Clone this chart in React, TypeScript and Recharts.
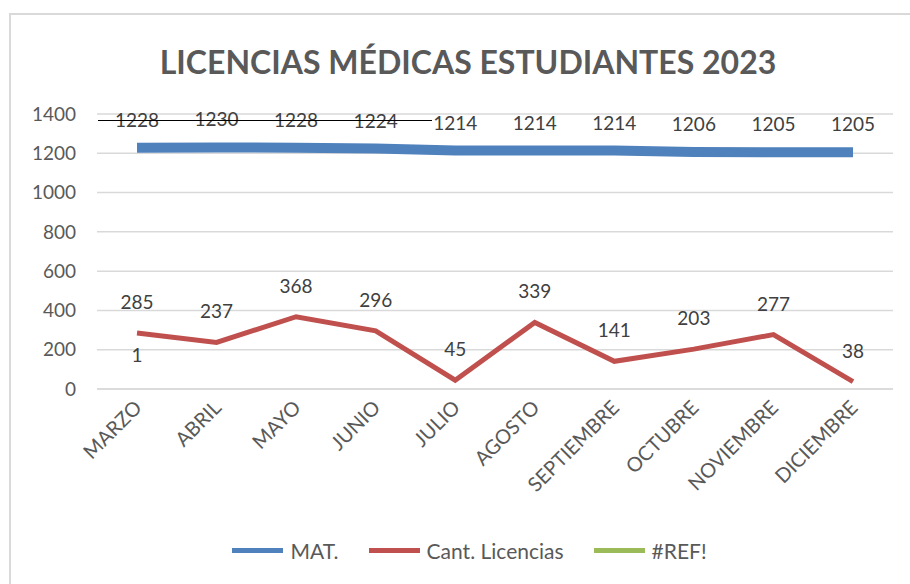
import React from 'react';
import { LineChart, Line, XAxis, YAxis, CartesianGrid, Legend, LabelList } from 'recharts';

// Datos
const meses = ['MARZO', 'ABRIL', 'MAYO', 'JUNIO', 'JULIO', 'AGOSTO', 'SEPTIEMBRE', 'OCTUBRE', 'NOVIEMBRE', 'DICIEMBRE'];
const matricula = [1228, 1230, 1228, 1224, 1214, 1214, 1214, 1206, 1205, 1205];
const licencias = [285, 237, 368, 296, 45, 339, 141, 203, 277, 38];
const refSerie = [1, null, null, null, null, null, null, null, null, null];
const yTicks = [0, 200, 400, 600, 800, 1000, 1200, 1400];

const data = meses.map((m, i) => ({
  name: m,
  mat: matricula[i],
  lic: licencias[i],
  ref: refSerie[i],
}));

const FONT = 'Lato, "Open Sans", sans-serif';
const GRIS = '#595959';

const legendItems = [
  { label: 'MAT.', color: '#4f81bd' },
  { label: 'Cant. Licencias', color: '#c0504d' },
  { label: '#REF!', color: '#9bbb59' },
];

const XTick = (props: any) => {
  const { x, y, payload } = props;
  return (
    <text
      x={x + 6}
      y={y + 12}
      transform={`rotate(-45, ${x + 6}, ${y + 12})`}
      textAnchor="end"
      fontSize={20}
      fontFamily={FONT}
      fill={GRIS}
    >
      {payload.value}
    </text>
  );
};

const makeLabel = (dy: number) => (props: any) => {
  const { x, y, value } = props;
  if (value == null) return null;
  return (
    <text x={x} y={y + dy} textAnchor="middle" fontSize={19} fontFamily={FONT} fill="#404040">
      {value}
    </text>
  );
};

const LegendContent = () => (
  <div
    style={{
      display: 'flex',
      justifyContent: 'center',
      alignItems: 'center',
      fontFamily: FONT,
      fontSize: 21,
      color: GRIS,
      paddingLeft: 46,
      transform: 'translateY(3px)',
    }}
  >
    {legendItems.map((it, i) => (
      <div key={it.label} style={{ display: 'flex', alignItems: 'center', marginLeft: i === 0 ? 0 : 30 }}>
        <div style={{ width: 51, height: 5, background: it.color, marginRight: 7 }} />
        <span>{it.label}</span>
      </div>
    ))}
  </div>
);

export default function App() {
  return (
    <div style={{ position: 'absolute', left: 0, top: 0, width: 910, height: 584, overflow: 'hidden', background: '#fff' }}>
      <div
        style={{
          position: 'absolute',
          left: 9,
          top: 13,
          width: 920,
          height: 600,
          border: '2px solid #d9d9d9',
        }}
      />
      <div
        style={{
          position: 'absolute',
          left: 0,
          width: 936,
          top: 42,
          textAlign: 'center',
          fontFamily: FONT,
          fontWeight: 700,
          fontSize: 32,
          color: GRIS,
        }}
      >
        LICENCIAS MÉDICAS ESTUDIANTES 2023
      </div>
      <div style={{ position: 'absolute', left: 0, top: 0 }}>
        <LineChart width={910} height={584} data={data} margin={{ top: 114, right: 17, left: 0, bottom: 24 }}>
          <CartesianGrid vertical={false} stroke="#d9d9d9" strokeWidth={1.5} />
          <XAxis
            dataKey="name"
            axisLine={{ stroke: '#d9d9d9', strokeWidth: 1.5 }}
            tickLine={false}
            height={146}
            interval={0}
            padding={{ left: 40, right: 40 }}
            tick={<XTick />}
          />
          <YAxis
            domain={[0, 1400]}
            ticks={yTicks}
            width={97}
            axisLine={false}
            tickLine={false}
            tickSize={0}
            tickMargin={21}
            tick={{ fontSize: 19, fill: GRIS, fontFamily: FONT }}
          />
          <Legend verticalAlign="bottom" content={<LegendContent />} />
          <Line
            dataKey="mat"
            stroke="#4f81bd"
            strokeWidth={10}
            dot={false}
            type="linear"
            isAnimationActive={false}
          >
            <LabelList dataKey="mat" content={makeLabel(-21)} />
          </Line>
          <Line
            dataKey="lic"
            stroke="#c0504d"
            strokeWidth={5}
            dot={false}
            type="linear"
            isAnimationActive={false}
          >
            <LabelList dataKey="lic" content={makeLabel(-24)} />
          </Line>
          <Line
            dataKey="ref"
            stroke="#9bbb59"
            strokeWidth={5}
            dot={false}
            type="linear"
            isAnimationActive={false}
          >
            <LabelList dataKey="ref" content={makeLabel(-27)} />
          </Line>
        </LineChart>
      </div>
      {/* línea negra que tacha las primeras etiquetas */}
      <div style={{ position: 'absolute', left: 98, top: 120, width: 334, height: 0, borderTop: '1.5px solid #000' }} />
    </div>
  );
}
